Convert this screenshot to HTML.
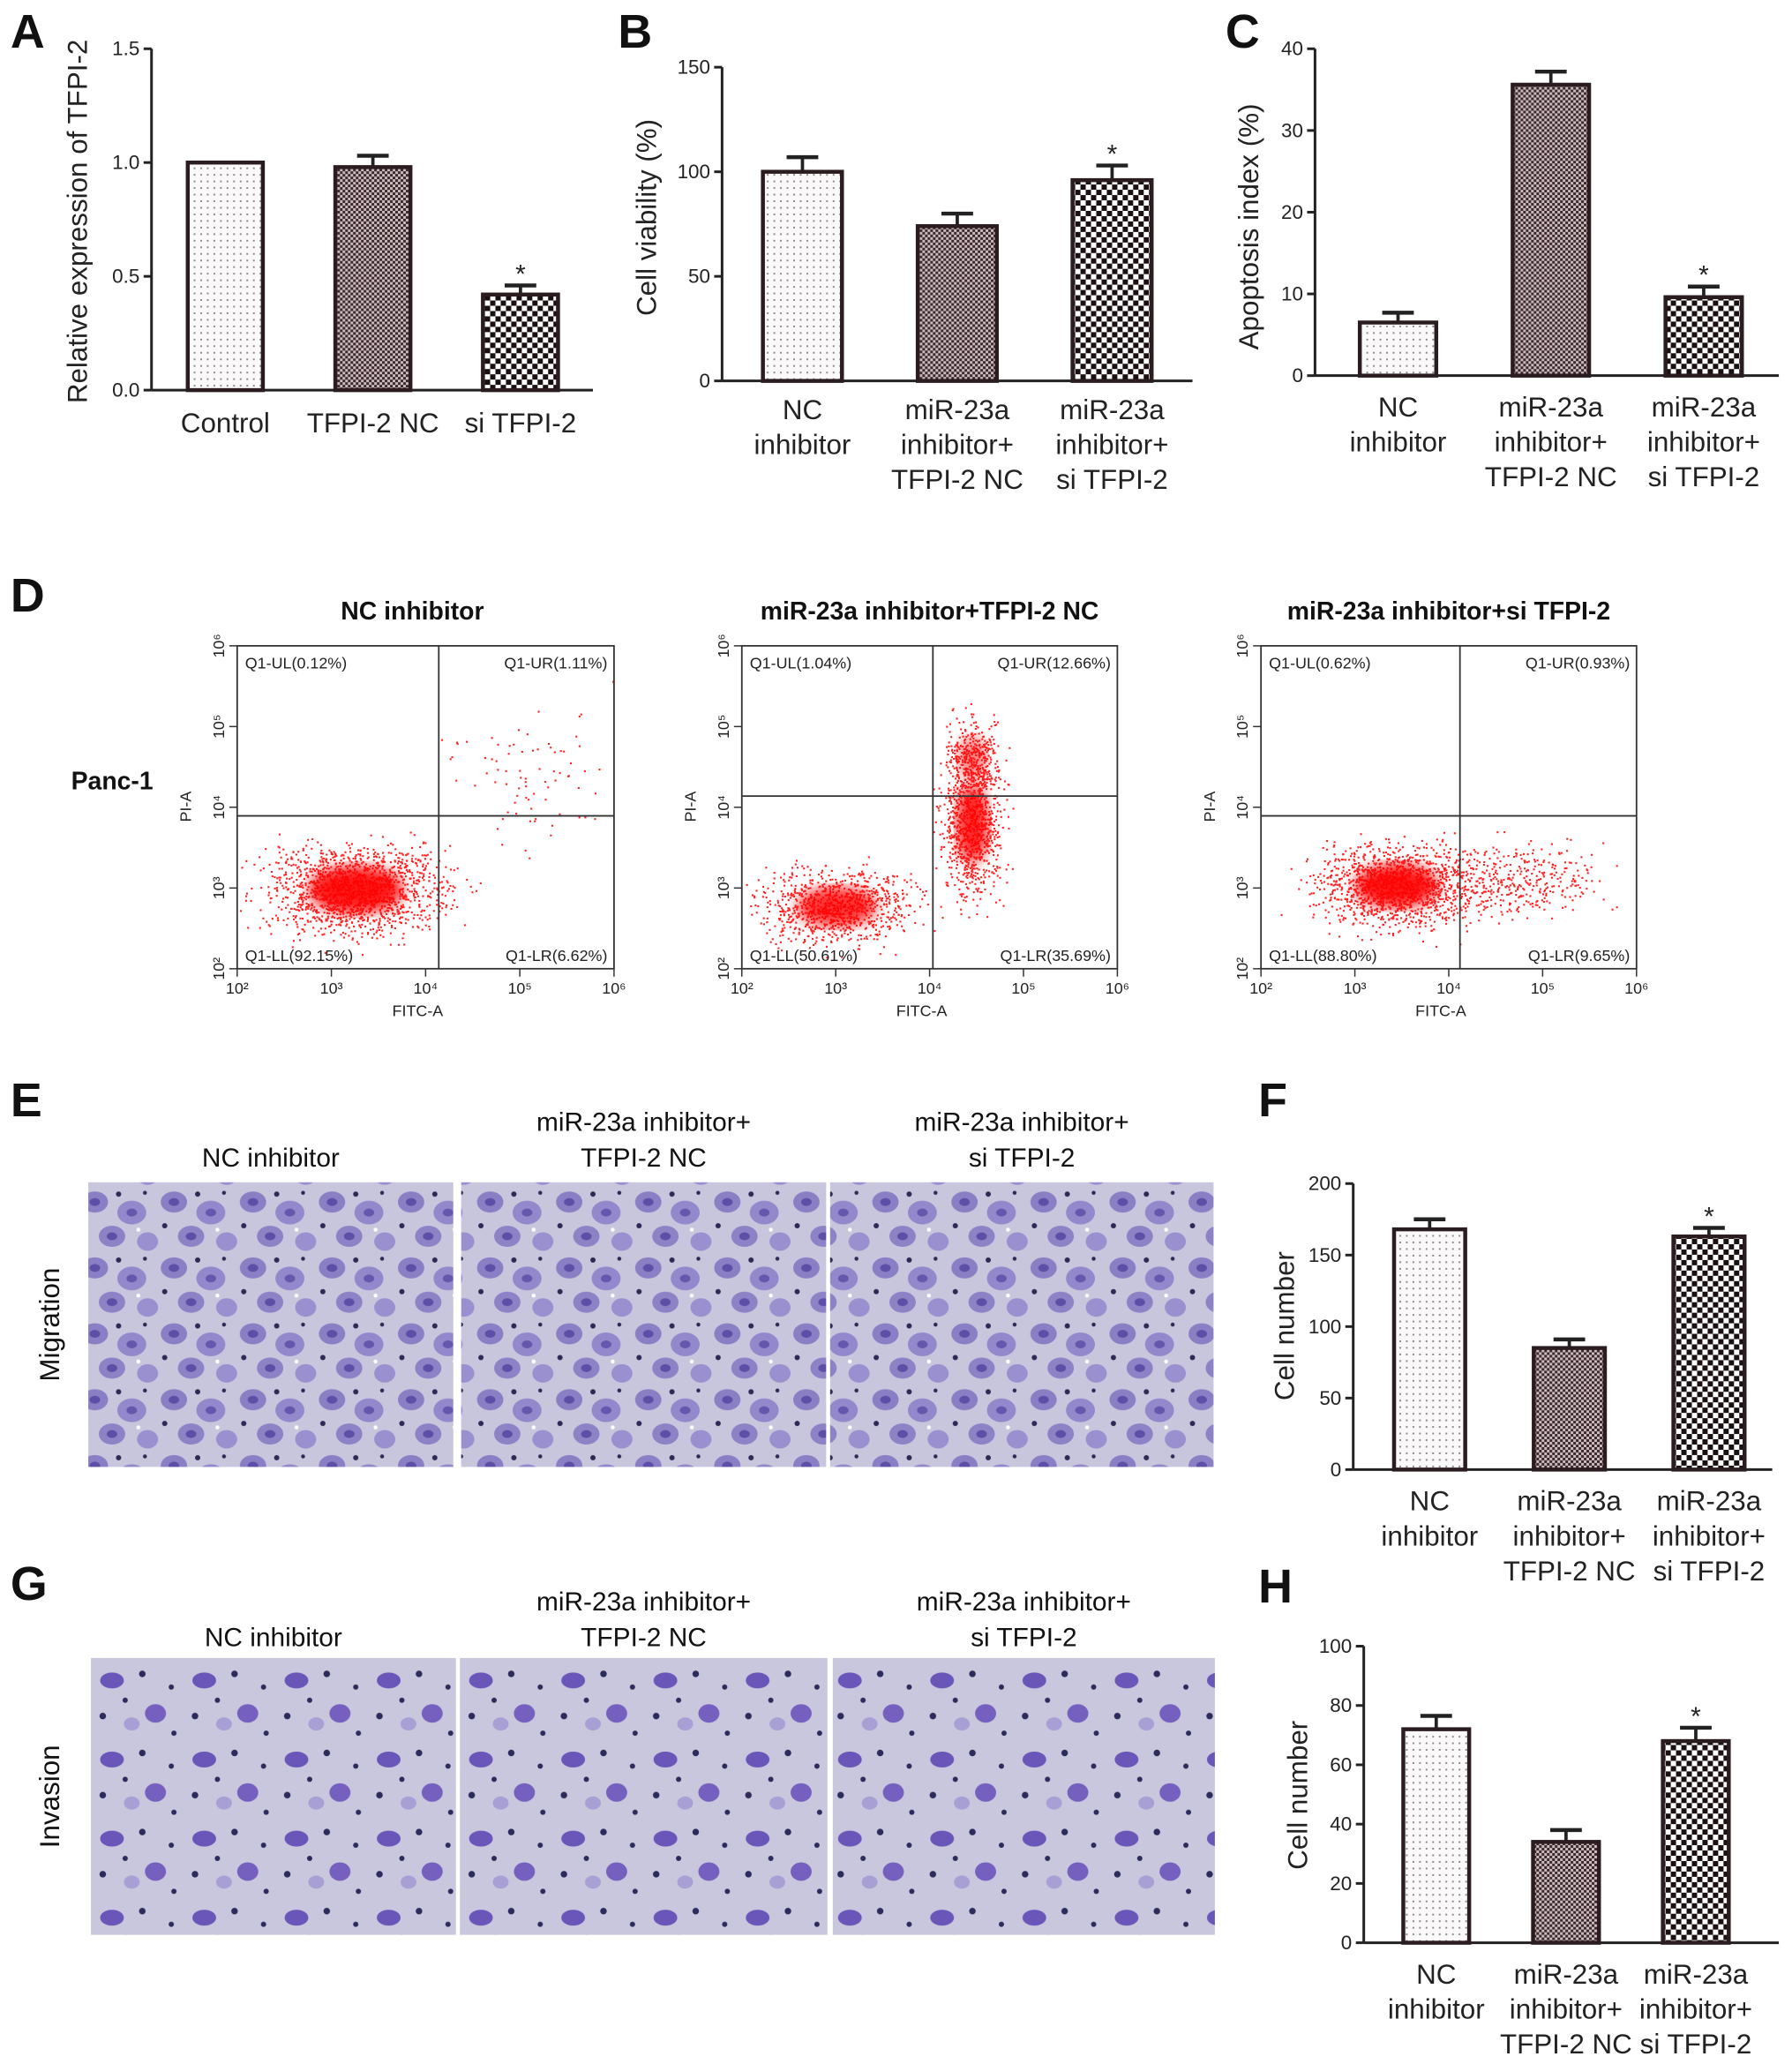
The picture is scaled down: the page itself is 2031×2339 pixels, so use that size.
<!DOCTYPE html>
<html><head><meta charset="utf-8"><style>
html,body{margin:0;padding:0;background:#fff;}
svg{display:block;font-family:"Liberation Sans",sans-serif;}
</style></head><body>
<svg id="fig" width="2031" height="2339" viewBox="0 0 1360 1566" preserveAspectRatio="none" xmlns="http://www.w3.org/2000/svg">
<defs>
<pattern id="pDots" width="5" height="5" patternUnits="userSpaceOnUse"><rect width="5" height="5" fill="#fbf9f9"/><rect x="2" y="2" width="1.3" height="1.3" fill="#888"/></pattern>
<pattern id="pFine" width="4" height="4" patternUnits="userSpaceOnUse"><rect width="4" height="4" fill="#cbb9bc"/><rect width="2" height="2" fill="#3a2a2e"/><rect x="2" y="2" width="2" height="2" fill="#3a2a2e"/></pattern>
<pattern id="pCoarse" width="8" height="8" patternUnits="userSpaceOnUse"><rect width="8" height="8" fill="#fff"/><rect width="4" height="4" fill="#1a1012"/><rect x="4" y="4" width="4" height="4" fill="#1a1012"/></pattern>
<pattern id="pCells" width="60" height="50" patternUnits="userSpaceOnUse">
<rect width="60" height="50" fill="#c8c6dd"/>
<ellipse cx="12" cy="12" rx="10" ry="8" fill="#8a7fc4"/><ellipse cx="12" cy="12" rx="4" ry="3" fill="#5d4fa8"/>
<ellipse cx="40" cy="20" rx="11" ry="9" fill="#9388cb"/><ellipse cx="40" cy="20" rx="4" ry="3" fill="#6457ad"/>
<ellipse cx="25" cy="38" rx="10" ry="8" fill="#8d82c6"/><ellipse cx="25" cy="38" rx="4" ry="3" fill="#5d4fa8"/>
<ellipse cx="52" cy="42" rx="8" ry="7" fill="#9a90cf"/>
<circle cx="30" cy="6" r="2" fill="#2b2a55"/><circle cx="5" cy="30" r="2" fill="#2b2a55"/><circle cx="50" cy="5" r="1.5" fill="#2b2a55"/><circle cx="45" cy="33" r="1.5" fill="#fff"/>
</pattern>
<pattern id="pInv" width="70" height="60" patternUnits="userSpaceOnUse">
<rect width="70" height="60" fill="#c9c7dd"/>
<ellipse cx="15" cy="15" rx="9" ry="6" fill="#6a56b8"/><ellipse cx="48" cy="40" rx="8" ry="7" fill="#7560bf"/>
<ellipse cx="30" cy="48" rx="6" ry="5" fill="#a89fd4"/>
<circle cx="38" cy="10" r="2.5" fill="#2c2c5c"/><circle cx="8" cy="42" r="2.5" fill="#2c2c5c"/><circle cx="60" cy="20" r="2" fill="#2c2c5c"/><circle cx="25" cy="30" r="2" fill="#2c2c5c"/><circle cx="62" cy="55" r="2" fill="#2c2c5c"/>
</pattern>
<filter id="blur"><feGaussianBlur stdDeviation="5"/></filter>
</defs>
<g id="charts"></g>
<g id="static"></g>
</svg>
<script>
// ---- Chart data ----
const catsA=[["Control"],["TFPI-2 NC"],["si TFPI-2"]];
const valsA=[1.0,0.98,0.42];
const errA=[0,0.05,0.04];
const ticksA=["0.0","0.5","1.0","1.5"];
const tickValsA=[0,0.5,1.0,1.5];

const cats3=[["NC","inhibitor"],["miR-23a","inhibitor+","TFPI-2 NC"],["miR-23a","inhibitor+","si TFPI-2"]];
const valsB=[100,74,96];
const errB=[7,6,7];
const ticksB=["0","50","100","150"];
const tickValsB=[0,50,100,150];

const valsC=[6.5,35.6,9.6];
const errC=[1.2,1.6,1.3];
const ticksC=["0","10","20","30","40"];
const tickValsC=[0,10,20,30,40];

const valsF=[168,85,163];
const errF=[7,6,6];
const ticksF=["0","50","100","150","200"];
const tickValsF=[0,50,100,150,200];

const valsH=[72,34,68];
const errH=[4.5,4,4.5];
const ticksH=["0","20","40","60","80","100"];
const tickValsH=[0,20,40,60,80,100];

const NS="http://www.w3.org/2000/svg";
const fills=["url(#pDots)","url(#pFine)","url(#pCoarse)"];
function mk(tag,attrs,parent){const e=document.createElementNS(NS,tag);for(const k in attrs)e.setAttribute(k,attrs[k]);parent.appendChild(e);return e;}

function drawBar(id,g,cats,vals,errs,ticks,tickVals,max,star){
  const grp=mk('g',{},document.getElementById('charts'));
  
  
  const y=v=>g.y0-(v/max)*(g.y0-g.yTop);
  const ax=mk('line',{x1:g.ax,y1:g.yTop,x2:g.ax,y2:g.y0,stroke:'#222','stroke-width':2},grp);
  
  
  const xa=mk('line',{x1:g.ax,y1:g.y0,x2:g.xEnd,y2:g.y0,stroke:'#222','stroke-width':2},grp);
  
  
  tickVals.forEach((tv,i)=>{
    mk('line',{x1:g.ax-6,y1:y(tv),x2:g.ax,y2:y(tv),stroke:'#222','stroke-width':2},grp);
    const t=mk('text',{x:g.ax-9,y:y(tv)+5,'text-anchor':'end','font-size':15,fill:'#222'},grp);
    t.textContent=ticks[i];
    
    
  });
  vals.forEach((v,i)=>{
    const cx=g.ax+g.off+i*g.step;
    const top=y(v);
    if(errs[i]>0){
      mk('line',{x1:cx,y1:top,x2:cx,y2:y(v+errs[i]),stroke:'#222','stroke-width':2.5},grp);
      mk('line',{x1:cx-12,y1:y(v+errs[i]),x2:cx+12,y2:y(v+errs[i]),stroke:'#222','stroke-width':3},grp);
    }
    const r=mk('rect',{x:cx-g.w/2,y:top,width:g.w,height:g.y0-top,fill:fills[i],stroke:'#2a1c1f','stroke-width':3},grp);
    
    
    if(star&&i===vals.length-1){
      const s=mk('text',{x:cx,y:y(v+errs[i])-2,'text-anchor':'middle','font-size':20,fill:'#222'},grp);
      s.textContent='*';
      
      
    }
    cats[i].forEach((ln,j)=>{
      const t=mk('text',{x:cx,y:g.ly+j*26.5,'text-anchor':'middle','font-size':g.fs||21,fill:'#222'},grp);
      t.textContent=ln;
      
      
    });
  });
  const tt=mk('text',{x:g.tx,y:g.ty,'text-anchor':'middle','font-size':g.tfs||21,fill:'#222',transform:`rotate(-90 ${g.tx} ${g.ty})`},grp);
  tt.textContent=g.title;
  
  
}
drawBar('panel-a',{ax:115,yTop:37,y0:296,xEnd:450,off:56,step:112,w:57,ly:328,tx:66,ty:168,title:"Relative expression of TFPI-2"},catsA,valsA,errA,ticksA,tickValsA,1.5,true);
drawBar('panel-b',{ax:548,yTop:51,y0:289,xEnd:905,off:61,step:117.5,w:60,ly:318,tx:498,ty:165,title:"Cell viability (%)"},cats3,valsB,errB,ticksB,tickValsB,150,true);
drawBar('panel-c',{ax:998,yTop:37,y0:285,xEnd:1350,off:63,step:116,w:58,ly:316,tx:955,ty:172,title:"Apoptosis index (%)"},cats3,valsC,errC,ticksC,tickValsC,40,true);
drawBar('panel-f',{ax:1027,yTop:898,y0:1115,xEnd:1345,off:58,step:106,w:54,ly:1146,tx:982,ty:1006,title:"Cell number"},cats3,valsF,errF,ticksF,tickValsF,200,true);
drawBar('panel-h',{ax:1035,yTop:1249,y0:1474,xEnd:1350,off:55,step:98.5,w:50,ly:1505,tx:992,ty:1362,title:"Cell number"},cats3,valsH,errH,ticksH,tickValsH,100,true);

// ---- static parts ----
const st=document.getElementById('static');
[["A",8,36],["B",469,36],["C",930,36],["D",8,464],["E",8,847],["F",955,847],["G",8,1214],["H",955,1216]].forEach(([L,x,yy])=>{
  const t=mk('text',{x:x,y:yy,'font-size':36,'font-weight':'bold',fill:'#111'},st);
  t.textContent=L;
  
  
});
let seed=12345;
function rnd(){seed=(seed*1103515245+12345)%2147483648;return seed/2147483648;}
function gauss(){return (rnd()+rnd()+rnd()+rnd()-2)*1.2;}
const flows=[
 {x0:180,x1:466,qx:333,qy:619,title:"NC inhibitor",q:["Q1-UL(0.12%)","Q1-UR(1.11%)","Q1-LL(92.15%)","Q1-LR(6.62%)"],blobs:[[270,675,48,24,0.9,1500],[400,590,40,35,0,80]]},
 {x0:563,x1:848,qx:708,qy:604,title:"miR-23a inhibitor+TFPI-2 NC",q:["Q1-UL(1.04%)","Q1-UR(12.66%)","Q1-LL(50.61%)","Q1-LR(35.69%)"],blobs:[[635,688,40,20,0.8,900],[738,625,16,40,0.85,900],[738,575,14,22,0.5,300]]},
 {x0:957,x1:1242,qx:1108,qy:619,title:"miR-23a inhibitor+si TFPI-2",q:["Q1-UL(0.62%)","Q1-UR(0.93%)","Q1-LL(88.80%)","Q1-LR(9.65%)"],blobs:[[1060,672,42,22,0.9,1300],[1150,668,45,20,0,400]]}
];
flows.forEach((f,k)=>{
  const g=mk('g',{},st);
  
  
  const y0=490,y1=735;
  f.blobs.forEach(b=>{
    for(let n=0;n<b[5];n++){
      const px=b[0]+gauss()*b[2],py=b[1]+gauss()*b[3];
      if(px>f.x0+1&&px<f.x1-1&&py>y0+1&&py<y1-1) mk('rect',{x:px,y:py,width:1.4,height:1.4,fill:'#f22'},g);
    }
    if(b[4]>0) mk('ellipse',{cx:b[0],cy:b[1],rx:b[2]*0.75,ry:b[3]*0.75,fill:'#f00',opacity:b[4],filter:'url(#blur)'},g);
  });
  mk('rect',{x:f.x0,y:y0,width:f.x1-f.x0,height:y1-y0,fill:'none',stroke:'#333','stroke-width':1.2},g);
  mk('line',{x1:f.qx,y1:y0,x2:f.qx,y2:y1,stroke:'#333','stroke-width':1.2},g);
  mk('line',{x1:f.x0,y1:f.qy,x2:f.x1,y2:f.qy,stroke:'#333','stroke-width':1.2},g);
  const tt=mk('text',{x:(f.x0+f.x1)/2+(k===0?-10:0),y:470,'text-anchor':'middle','font-size':19,'font-weight':'bold',fill:'#111'},g);
  tt.textContent=f.title;
  const qp=[[f.x0+6,y0+17,'start'],[f.x1-5,y0+17,'end'],[f.x0+6,y1-6,'start'],[f.x1-5,y1-6,'end']];
  f.q.forEach((s,i)=>{const t=mk('text',{x:qp[i][0],y:qp[i][1],'text-anchor':qp[i][2],'font-size':12,fill:'#222'},g);t.textContent=s;});
  for(let d=0;d<=4;d++){
    const xx=f.x0+d*(f.x1-f.x0)/4, yy=y1-d*(y1-y0)/4;
    mk('line',{x1:xx,y1:y1,x2:xx,y2:y1+6,stroke:'#333'},g);
    const t=mk('text',{x:xx,y:y1+19,'text-anchor':'middle','font-size':12,fill:'#222'},g);t.textContent='10'+['²','³','⁴','⁵','⁶'][d];
    mk('line',{x1:f.x0-6,y1:yy,x2:f.x0,y2:yy,stroke:'#333'},g);
    const t2=mk('text',{x:f.x0-10,y:yy,'text-anchor':'middle','font-size':12,fill:'#222',transform:`rotate(-90 ${f.x0-10} ${yy})`},g);t2.textContent='10'+['²','³','⁴','⁵','⁶'][d];
  }
  const xl=mk('text',{x:(f.x0+f.x1)/2-6,y:771,'text-anchor':'middle','font-size':12,fill:'#222'},g);xl.textContent='FITC-A';
  const yl=mk('text',{x:f.x0-35,y:612,'text-anchor':'middle','font-size':12,fill:'#222',transform:`rotate(-90 ${f.x0-35} 612)`},g);yl.textContent='PI-A';
});
const panc=mk('text',{x:54,y:599,'font-size':19,'font-weight':'bold',fill:'#111'},st);
panc.textContent='Panc-1';



function micro(row,y,h,xs,pat,label,ly){
  xs.forEach((p,i)=>{
    const r=mk('rect',{x:p[0],y:y,width:p[1]-p[0],height:h,fill:pat},st);
    
    
  });
  const heads=[["NC inhibitor"],["miR-23a inhibitor+","TFPI-2 NC"],["miR-23a inhibitor+","si TFPI-2"]];
  heads.forEach((hh,i)=>{
    const cx=(xs[i][0]+xs[i][1])/2;
    hh.forEach((ln,j)=>{
      const t=mk('text',{x:cx,y:(hh.length===1?ly+27:ly)+j*27,'text-anchor':'middle','font-size':20,fill:'#111'},st);
      t.textContent=ln;
      
      
    });
  });
  const cy=y+h/2;
  const t=mk('text',{x:45,y:cy,'text-anchor':'middle','font-size':21,fill:'#111',transform:`rotate(-90 45 ${cy})`},st);
  t.textContent=label;
  
  
}
micro('migration',897,216,[[67,344],[350,627],[630,921]],'url(#pCells)','Migration',858);
micro('invasion',1258,210,[[69,346],[349,628],[632,922]],'url(#pInv)','Invasion',1222);
</script>
</body></html>
